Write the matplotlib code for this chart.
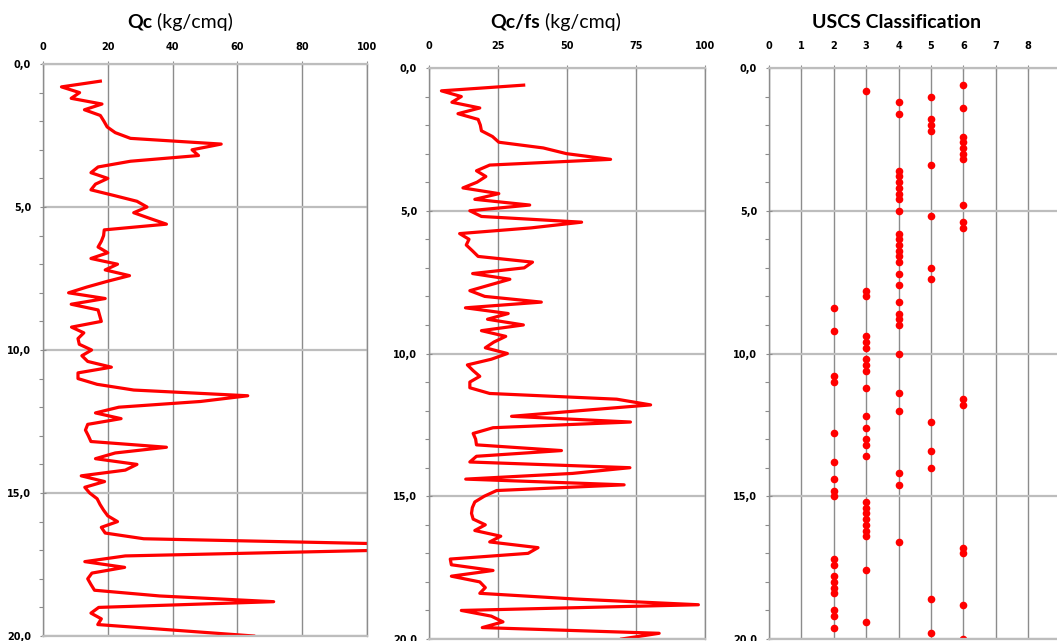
import matplotlib
matplotlib.use("Agg")
import matplotlib.pyplot as plt
from matplotlib.ticker import MultipleLocator, FixedLocator, FuncFormatter

# CPT sounding: readings every 0.2 m
depth = [0.6, 0.8, 1.0, 1.2, 1.4, 1.6, 1.8, 2.0, 2.2, 2.4,
         2.6, 2.8, 3.0, 3.2, 3.4, 3.6, 3.8, 4.0, 4.2, 4.4,
         4.6, 4.8, 5.0, 5.2, 5.4, 5.6, 5.8, 6.0, 6.2, 6.4,
         6.6, 6.8, 7.0, 7.2, 7.4, 7.6, 7.8, 8.0, 8.2, 8.4,
         8.6, 8.8, 9.0, 9.2, 9.4, 9.6, 9.8, 10.0, 10.2, 10.4,
         10.6, 10.8, 11.0, 11.2, 11.4, 11.6, 11.8, 12.0, 12.2, 12.4,
         12.6, 12.8, 13.0, 13.2, 13.4, 13.6, 13.8, 14.0, 14.2, 14.4,
         14.6, 14.8, 15.0, 15.2, 15.4, 15.6, 15.8, 16.0, 16.2, 16.4,
         16.6, 16.8, 17.0, 17.2, 17.4, 17.6, 17.8, 18.0, 18.2, 18.4,
         18.6, 18.8, 19.0, 19.2, 19.4, 19.6, 19.8, 20.0]

# cone resistance (kg/cmq)
qc = [17.7, 5.7, 11.3, 8.7, 18.2, 12.8, 17.7, 18.8, 19.8, 22.3,
      27.0, 55.0, 46.0, 48.0, 27.0, 17.0, 14.8, 20.0, 16.2, 14.8,
      22.0, 29.0, 32.1, 28.0, 33.0, 38.1, 18.9, 18.7, 18.0, 17.0,
      20.0, 14.8, 23.0, 19.2, 26.7, 19.8, 13.5, 7.9, 19.2, 8.7,
      17.0, 17.5, 18.0, 8.8, 12.6, 10.8, 11.2, 15.0, 12.0, 13.8,
      21.1, 10.8, 10.8, 16.7, 28.0, 63.2, 48.6, 23.4, 16.2, 24.1,
      13.8, 13.1, 14.0, 14.8, 38.1, 22.3, 16.2, 29.0, 25.4, 11.8,
      19.0, 12.9, 14.4, 16.7, 17.6, 18.7, 20.0, 23.0, 18.0, 19.2,
      31.1, 115.0, 105.0, 25.4, 12.9, 25.2, 15.1, 13.8, 14.8, 15.9,
      36.0, 71.2, 17.2, 14.8, 18.0, 16.9, 41.0, 65.0]

# friction ratio Qc/fs
qc_fs = [34.3, 4.5, 11.7, 8.3, 18.4, 10.5, 17.8, 18.6, 19.0, 23.0,
         25.3, 41.4, 49.8, 65.8, 22.0, 17.2, 20.6, 17.4, 12.3, 25.3,
         16.6, 36.5, 14.8, 19.0, 55.3, 37.0, 11.1, 14.5, 13.5, 15.7,
         17.8, 37.5, 34.5, 15.8, 29.3, 22.0, 14.8, 20.2, 40.7, 13.2,
         28.7, 21.2, 34.2, 19.0, 27.8, 23.5, 20.4, 28.4, 22.6, 13.9,
         16.0, 18.4, 14.8, 14.8, 22.0, 68.0, 80.3, 55.0, 29.9, 73.0,
         23.2, 16.0, 16.9, 17.2, 48.0, 17.2, 14.8, 72.8, 52.0, 13.3,
         70.7, 24.5, 20.0, 16.6, 15.7, 15.4, 16.0, 20.4, 16.6, 26.0,
         22.0, 39.5, 35.9, 7.7, 8.1, 23.2, 8.1, 18.4, 20.4, 18.4,
         53.0, 97.6, 11.7, 22.6, 26.8, 19.3, 83.4, 69.8]

# USCS soil class index
uscs = [6, 3, 5, 4, 6, 4, 5, 5, 5, 6,
        6, 6, 6, 6, 5, 4, 4, 4, 4, 4,
        4, 6, 4, 5, 6, 6, 4, 4, 4, 4,
        4, 4, 5, 4, 5, 4, 3, 3, 4, 2,
        4, 4, 4, 2, 3, 3, 3, 4, 3, 3,
        3, 2, 2, 3, 4, 6, 6, 4, 3, 5,
        3, 2, 3, 3, 5, 3, 2, 5, 4, 2,
        4, 2, 2, 3, 3, 3, 3, 3, 3, 3,
        4, 6, 6, 2, 2, 3, 2, 2, 2, 2,
        5, 6, 2, 2, 3, 2, 5, 6]

W, H = 1057, 641
RED = "#ff0000"
VGRID = "#8c8c8c"
HGRID = "#bdbdbd"
TITLE_FONT = ["Lato", "DejaVu Sans"]

fig = plt.figure(figsize=(W / 100, H / 100), dpi=100)


def box(left, top, right, bottom):
    return [left / W, 1 - bottom / H, (right - left) / W, (bottom - top) / H]


def style(ax, xmax, xlocator, top_pad):
    ax.set_xlim(0, xmax)
    ax.set_ylim(20, 0)
    ax.xaxis.set_major_locator(xlocator)
    ax.yaxis.set_major_locator(MultipleLocator(5))
    ax.yaxis.set_minor_locator(MultipleLocator(1))
    ax.yaxis.set_major_formatter(
        FuncFormatter(lambda v, p: f"{v:.1f}".replace(".", ",")))
    ax.xaxis.tick_top()
    ax.tick_params(axis="x", which="major", direction="inout", length=5,
                   width=0.8, color=VGRID, pad=top_pad, labelsize=7)
    ax.tick_params(axis="y", which="major", direction="inout", length=5,
                   width=0.8, color=VGRID, pad=6, labelsize=7)
    ax.tick_params(axis="y", which="minor", direction="out", length=3,
                   width=0.8, color=VGRID)
    for lab in ax.get_xticklabels() + ax.get_yticklabels():
        lab.set_fontweight("bold")
    ax.grid(True, axis="x", color=VGRID, lw=1.0)
    ax.grid(True, axis="y", color=HGRID, lw=1.6)
    ax.set_axisbelow(True)
    for side in ("left", "right"):
        ax.spines[side].set_color(VGRID)
        ax.spines[side].set_linewidth(1.0)
    for side in ("top", "bottom"):
        ax.spines[side].set_color(HGRID)
        ax.spines[side].set_linewidth(1.6)


ax1 = fig.add_axes(box(43, 64, 367, 636))
ax2 = fig.add_axes(box(429, 68, 705, 639))
ax3 = fig.add_axes(box(769, 68, 1060.6, 639))

style(ax1, 100, MultipleLocator(20), 6)
style(ax2, 100, MultipleLocator(25), 10)
style(ax3, 9, FixedLocator(range(0, 9)), 10)
ax3.xaxis.set_minor_locator(FixedLocator([9]))
ax3.grid(True, axis="x", which="minor", color=VGRID, lw=1.0)

ax1.plot(qc, depth, color=RED, lw=2.3, solid_joinstyle="round")
ax2.plot(qc_fs, depth, color=RED, lw=2.3, solid_joinstyle="round")
ax3.plot(uscs, depth, ls="none", marker="o", ms=5.5, color=RED, mec="none")

# panel titles: bold quantity followed by regular unit
ty = 1 - 22 / H
fig.text(152 / W, ty, "Qc", ha="right", va="center", fontsize=14,
         fontweight="bold", family=TITLE_FONT)
fig.text(152 / W, ty, " (kg/cmq)", ha="left", va="center", fontsize=14,
         family=TITLE_FONT)
fig.text(540 / W, ty, "Qc/fs", ha="right", va="center", fontsize=14,
         fontweight="bold", family=TITLE_FONT)
fig.text(540 / W, ty, " (kg/cmq)", ha="left", va="center", fontsize=14,
         family=TITLE_FONT)
fig.text(897 / W, ty, "USCS Classification", ha="center", va="center",
         fontsize=14, fontweight="bold", family=TITLE_FONT)

fig.savefig("out.png", dpi=100)
